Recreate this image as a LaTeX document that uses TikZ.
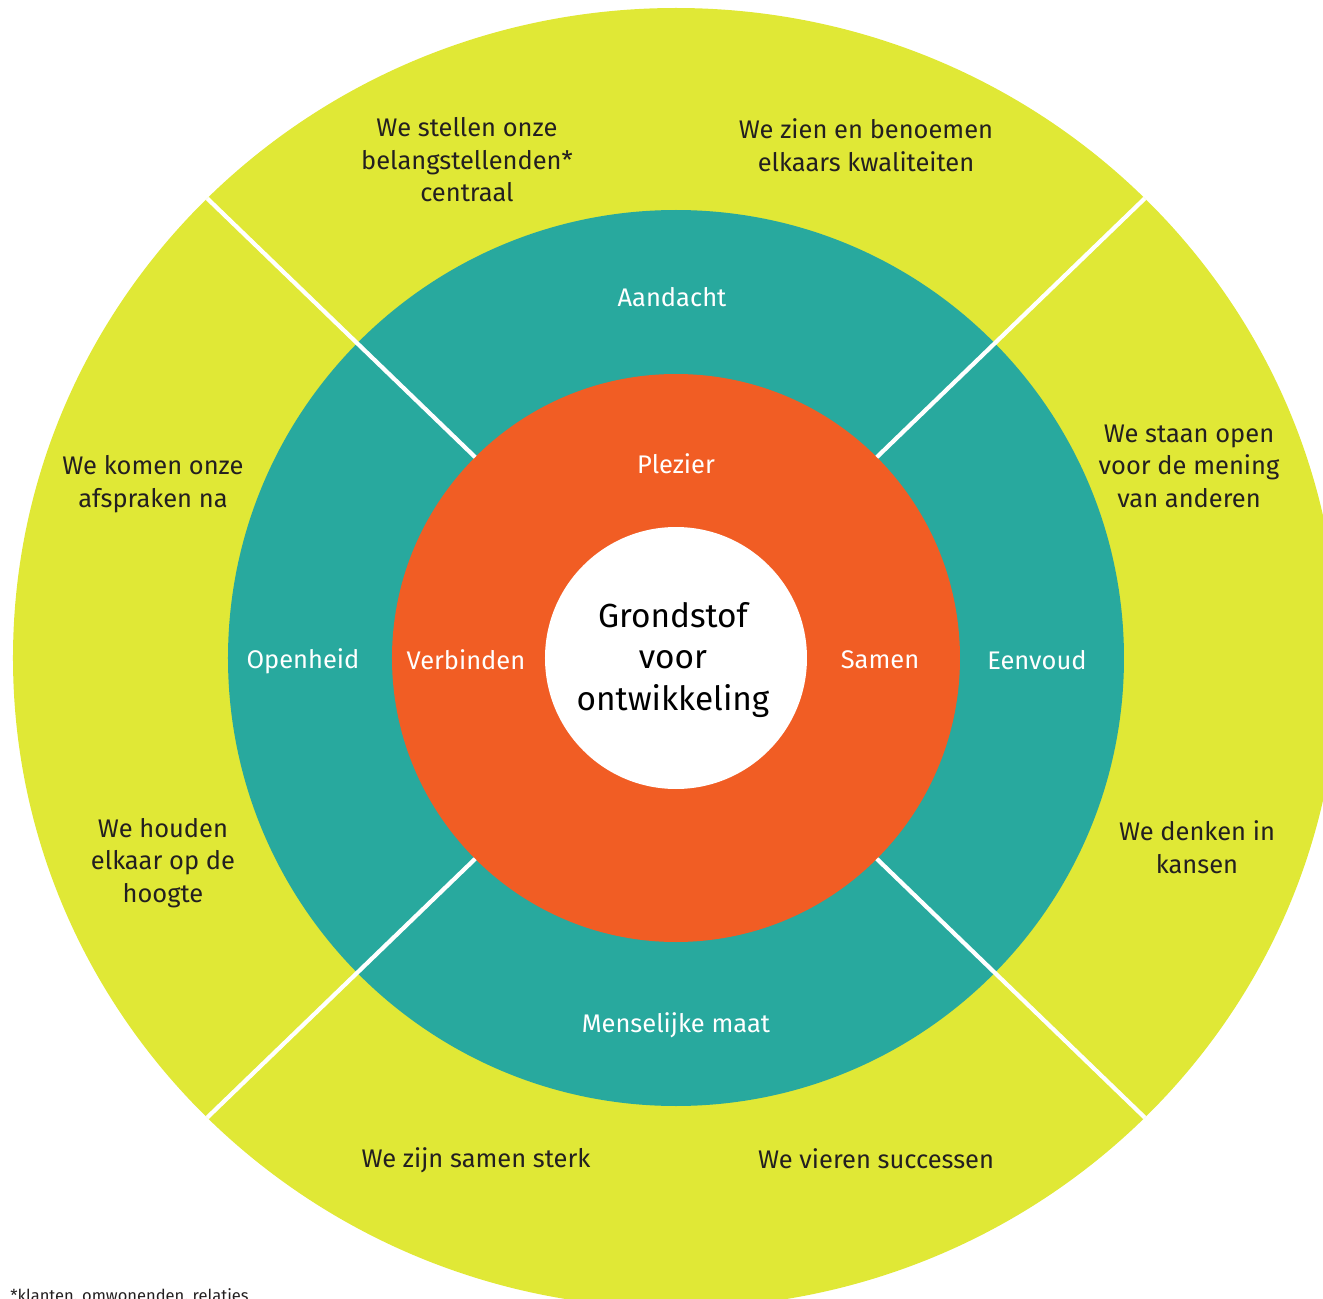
\documentclass[tikz,border=0pt]{standalone}
\usepackage{fontspec}
\setmainfont{Fira Sans}
\usetikzlibrary{positioning}

\definecolor{lime}{HTML}{E0E836}
\definecolor{ringteal}{HTML}{28A99E}
\definecolor{core}{HTML}{F15D24}
\definecolor{ink}{HTML}{231F20}

\tikzset{
  value/.style={text=white, inner sep=1pt, font=\fontsize{14.5}{18.5}\selectfont},
  pledge/.style={text=ink, align=center, inner sep=1pt, font=\fontsize{14.5}{18.5}\selectfont},
  divider/.style={white, line width=2.4pt},
}

\begin{document}
\begin{tikzpicture}[x=0.02cm, y=0.02cm]
            \useasboundingbox (-676,-641) rectangle (647,658);
            
            % Rings
            
            \fill[lime] (0,0) ellipse [x radius=663, y radius=650];
            \fill[ringteal] (0,0) circle [radius=448];
            \fill[core] (0,0) circle [radius=284];
            \fill[white] (0,0) circle [radius=131];
            
            % Dividers
            
            \foreach \a in {45,135,225,315} {
              \coordinate (in-\a) at (\a:284);
              \coordinate (out-\a) at (\a:663 and 650);
              \draw[divider] (in-\a) -- (out-\a);
            }
            
            % Centre
            
            \node[align=center, text=black, font=\fontsize{19}{23.8}\selectfont] (grondstof) at (-3,-2) {Grondstof\\voor\\ontwikkeling};
            
            % Values
            
            \node[value] (plezier) at (0,194) {Plezier};
            \node[value] (verbinden) at (-210,-2) {Verbinden};
            \node[value] (samen) at (204,-2) {Samen};
            \node[value] (aandacht) at (-4,361) {Aandacht};
            \node[value] (openheid) at (-373,-3) {Openheid};
            \node[value] (eenvoud) at (361,-2) {Eenvoud};
            \node[value] (maat) at (0,-367) {Menselijke maat};
            
            % Pledges
            
            \node[pledge] (centraal) at (-209,498) {We stellen onze\\belangstellenden*\\centraal};
            \node[pledge] (kwaliteiten) at (190,513) {We zien en benoemen\\elkaars kwaliteiten};
            \node[pledge] (afspraken) at (-523,174) {We komen onze\\afspraken na};
            \node[pledge] (hoogte) at (-513,-205) {We houden\\elkaar op de\\hoogte};
            \node[pledge] (mening) at (513,192) {We staan open\\voor de mening\\van anderen};
            \node[pledge] (kansen) at (521,-189) {We denken in\\kansen};
            \node[pledge] (sterk) at (-200,-502) {We zijn samen sterk};
            \node[pledge] (successen) at (200,-501) {We vieren successen};
            
            % Footnote
            
            \node[anchor=base west, inner sep=0pt, text=ink, font=\fontsize{9.4}{11}\selectfont] (voetnoot) at (-666,-643) {*klanten, omwonenden, relaties};
            
\end{tikzpicture}
\end{document}
